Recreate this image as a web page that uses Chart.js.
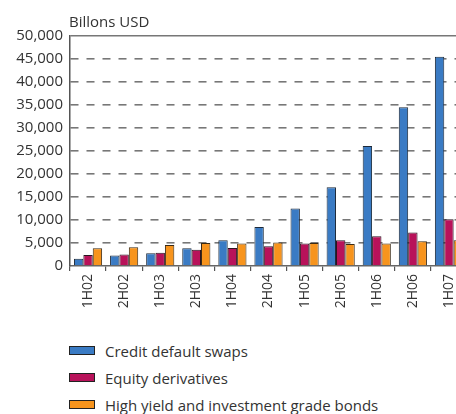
<!DOCTYPE html>
<html>
<head>
<meta charset="utf-8">
<script src="https://cdn.jsdelivr.net/npm/chart.js@4"></script>
<style>
    html, body { margin: 0; padding: 0; background: #fff; overflow: hidden; }
    body { width: 456px; height: 414px; position: relative; }
    #wrap { position: absolute; left: 0; top: 0; width: 470px; height: 316px; }
    #legend { position: absolute; left: 69px; top: 337px; font-family: "Open Sans", sans-serif; font-size: 15px; color: #333; }
    #legend div { height: 27px; display: flex; align-items: center; }
    #legend span.box { display: inline-block; width: 24px; height: 7px; border: 1px solid #222; margin-right: 10px; }
</style>
</head>
<body>
<div id="wrap"><canvas id="myChart"></canvas></div>
<div id="legend"></div>
<script>
const periods = ['1H02', '2H02', '1H03', '2H03', '1H04', '2H04', '1H05', '2H05', '1H06', '2H06', '1H07']
const creditDefaultSwaps = [1600, 2300, 2750, 3850, 5600, 8500, 12500, 17100, 26100, 34500, 45500]
const equityDerivatives = [2400, 2500, 2900, 3550, 3900, 4300, 4900, 5600, 6450, 7300, 10150]
const bonds = [3850, 4100, 4550, 5000, 4900, 5100, 5000, 4800, 4900, 5400, 5600]
const yTicks = [0, 5000, 10000, 15000, 20000, 25000, 30000, 35000, 40000, 45000, 50000]

const font = "'Open Sans', sans-serif"

// unit label sitting above the y axis
const unitLabel = {
    id: 'unitLabel',
    afterDraw(chart) {
        const ctx = chart.ctx
        ctx.save()
        ctx.font = '15px ' + font
        ctx.fillStyle = '#333'
        ctx.textBaseline = 'alphabetic'
        ctx.fillText('Billons USD', chart.chartArea.left - 1, 27)
        ctx.restore()
    }
}

const chart = (labels) => {

    const ctx = document.getElementById('myChart');

    return new Chart(ctx, {
        type: 'bar',
        data: {
            labels: labels,
            datasets: [{
                label: 'Credit default swaps',
                data: creditDefaultSwaps,
                backgroundColor: '#3a7bc4',
                borderColor: '#1d2a3a',
                borderWidth: 1
            }, {
                label: 'Equity derivatives',
                data: equityDerivatives,
                backgroundColor: '#b8125a',
                borderColor: '#2a1520',
                borderWidth: 1
            }, {
                label: 'High yield and investment grade bonds',
                data: bonds,
                backgroundColor: '#f7941d',
                borderColor: '#3a2a15',
                borderWidth: 1
            }]
        },
        options: {
            responsive: true,
            maintainAspectRatio: false,
            animation: false,
            layout: { padding: { top: 36, right: 3, left: 0, bottom: 0 } },
            datasets: { bar: { categoryPercentage: 0.78, barPercentage: 1 } },
            plugins: {
                legend: { display: false },
                tooltip: { enabled: false }
            },
            scales: {
                x: {
                    grid: { display: true, drawOnChartArea: false, drawTicks: true, tickLength: 5, color: '#555', lineWidth: 1.2 },
                    border: { display: true, color: '#666', width: 1.5 },
                    ticks: {
                        minRotation: 90, maxRotation: 90, padding: 3,
                        color: '#333', font: { family: font, size: 14 }
                    },
                    afterFit: (s) => { s.height = 50 }
                },
                y: {
                    min: 0, max: 50000,
                    afterBuildTicks: (s) => { s.ticks = yTicks.map(v => ({ value: v })) },
                    grid: {
                        drawTicks: false,
                        color: (c) => c.tick && c.tick.value === 0 ? 'rgba(0,0,0,0)' : '#777',
                        lineWidth: 1.6
                    },
                    border: {
                        display: true, color: '#555', width: 1.5,
                        dash: (c) => c.tick && c.tick.value === 50000 ? [] : [8, 8]
                    },
                    ticks: {
                        padding: 7, color: '#333',
                        font: { family: font, size: 15 },
                        callback: (v) => v.toLocaleString('en-US')
                    },
                    afterFit: (s) => { s.width = 70 }
                }
            }
        },
        plugins: [unitLabel]
    });
}

const c = chart(periods)

// legend stacked one item per row under the chart
const legendEl = document.getElementById('legend')
c.data.datasets.forEach(ds => {
    const row = document.createElement('div')
    const box = document.createElement('span')
    box.className = 'box'
    box.style.background = ds.backgroundColor
    row.appendChild(box)
    row.appendChild(document.createTextNode(ds.label))
    legendEl.appendChild(row)
})
</script>
</body>
</html>
